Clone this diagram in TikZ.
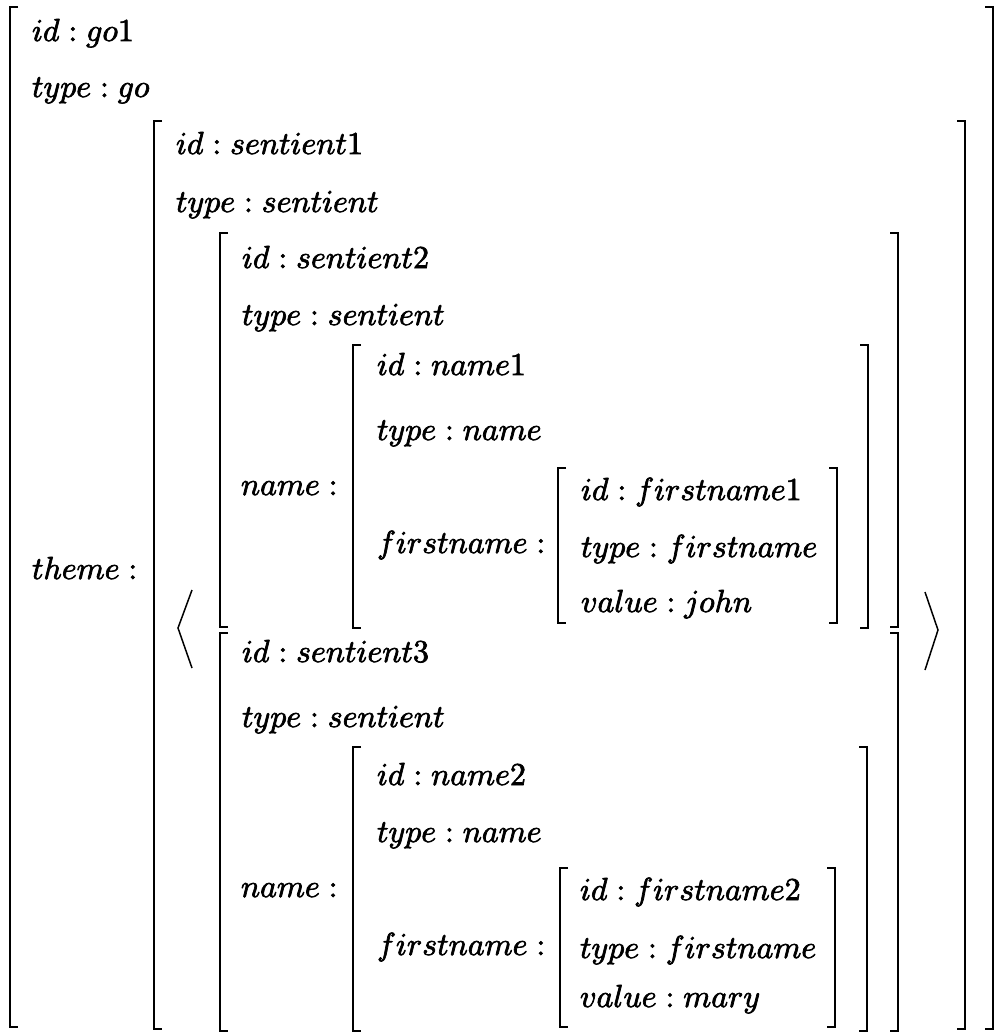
\documentclass[tikz,border=0pt]{standalone}
\newcommand{\heavy}[1]{\special{pdf:literal direct 2 Tr 0.22 w}#1\special{pdf:literal direct 0 Tr}}
\tikzset{
  txt/.style={anchor=base west, inner sep=0pt, outer sep=0pt, scale=3.2},
  br/.style={line width=1.9bp, line cap=butt, line join=miter},
  ang/.style={line width=1.5bp, line join=miter}
}
\newcommand{\lbr}[3]{\draw[br] (#1+8,#2) -- (#1,#2) -- (#1,#3) -- (#1+8,#3);}
\newcommand{\rbr}[3]{\draw[br] (#1-8,#2) -- (#1,#2) -- (#1,#3) -- (#1-8,#3);}
\begin{document}
\begin{tikzpicture}[x=1bp,y=-1bp]
\useasboundingbox[fill=white] (0,0) rectangle (995,1033);
% outer AVM
\lbr{10}{7}{1027}
\rbr{993}{7}{1029}
\node[txt] (goid) at (32,41) {\heavy{$id : go1$}};
\node[txt] (gotype) at (32,97) {\heavy{$type : go$}};
\node[txt] (theme) at (32,579) {\heavy{$theme :$}};
% theme AVM
\lbr{154}{121}{1029}
\rbr{965}{121}{1029}
\node[txt] (s1id) at (176,154) {\heavy{$id : sentient1$}};
\node[txt] (s1type) at (176,212) {\heavy{$type : sentient$}};
% angle brackets
\draw[ang] (192,590) -- (178,628) -- (192,668);
\draw[ang] (925,592) -- (938,630) -- (925,670);
% sentient2
\lbr{220}{233}{627}
\rbr{898}{233}{627}
\node[txt] (s2id) at (242,268) {\heavy{$id : sentient2$}};
\node[txt] (s2type) at (242,325) {\heavy{$type : sentient$}};
\node[txt] (s2name) at (241,495) {\heavy{$name :$}};
% name1
\lbr{353}{345}{628}
\rbr{868}{345}{628}
\node[txt] (n1id) at (377,375) {\heavy{$id : name1$}};
\node[txt] (n1type) at (377,440) {\heavy{$type : name$}};
\node[txt] (n1first) at (377,553) {\heavy{$firstname :$}};
% firstname1
\lbr{558}{468}{623}
\rbr{837}{468}{623}
\node[txt] (f1id) at (581,500) {\heavy{$id : firstname1$}};
\node[txt] (f1type) at (581,557) {\heavy{$type : firstname$}};
\node[txt] (f1val) at (581,612) {\heavy{$value : john$}};
% sentient3
\lbr{220}{633}{1031}
\rbr{898}{633}{1031}
\node[txt] (s3id) at (242,662) {\heavy{$id : sentient3$}};
\node[txt] (s3type) at (242,727) {\heavy{$type : sentient$}};
\node[txt] (s3name) at (241,897) {\heavy{$name :$}};
% name2
\lbr{353}{747}{1031}
\rbr{867}{747}{1031}
\node[txt] (n2id) at (377,785) {\heavy{$id : name2$}};
\node[txt] (n2type) at (377,842) {\heavy{$type : name$}};
\node[txt] (n2first) at (377,955) {\heavy{$firstname :$}};
% firstname2
\lbr{560}{868}{1027}
\rbr{835}{868}{1027}
\node[txt] (f2id) at (580,900) {\heavy{$id : firstname2$}};
\node[txt] (f2type) at (580,958) {\heavy{$type : firstname$}};
\node[txt] (f2val) at (580,1007) {\heavy{$value : mary$}};
\end{tikzpicture}
\end{document}
